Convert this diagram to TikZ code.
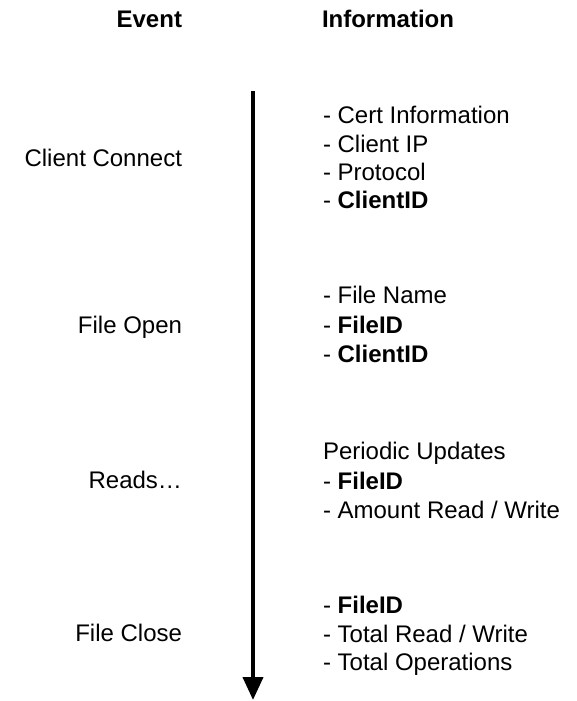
\documentclass[tikz,border=0pt]{standalone}
\usepackage{fontspec}
\setmainfont{Liberation Sans}
\usetikzlibrary{arrows.meta}

\tikzset{
  txt/.style={inner sep=0pt, outer sep=0pt, font=\fontsize{24}{29}\selectfont},
  head/.style={txt, font=\fontsize{24}{29}\selectfont\bfseries},
  evt/.style={txt, anchor=base east},
  info/.style={txt, anchor=base west},
  timeline/.style={line width=4pt, -{Triangle[width=20pt,length=23pt]}}
}

\begin{document}
\begin{tikzpicture}[x=1pt, y=-1pt]
  \useasboundingbox (0,0) rectangle (577,701);

  % column headers
  \node[head, anchor=base east] (hEvent) at (182,28) {Event};
  \node[head, anchor=base west] (hInfo) at (322,28) {Information};

  % time axis
  \coordinate (tStart) at (253,91);
  \coordinate (tEnd) at (253,700);
  \draw[timeline] (tStart) -- (tEnd);

  % events
  \node[evt] (eConnect) at (182,166) {Client Connect};
  \node[evt] (eOpen) at (182,333) {File Open};
  \node[evt] (eReads) at (182,488) {Reads…};
  \node[evt] (eClose) at (182,641) {File Close};

  % client connect information
  \node[info] (c1) at (323,123) {- Cert Information};
  \node[info] (c2) at (323,152) {- Client IP};
  \node[info] (c3) at (323,180) {- Protocol};
  \node[info] (c4) at (323,208) {- \textbf{ClientID}};

  % file open information
  \node[info] (o1) at (323,303) {- File Name};
  \node[info] (o2) at (323,333) {- \textbf{FileID}};
  \node[info] (o3) at (323,362) {- \textbf{ClientID}};

  % read updates
  \node[info] (r1) at (323,459) {Periodic Updates};
  \node[info] (r2) at (323,489) {- \textbf{FileID}};
  \node[info] (r3) at (323,518) {- Amount Read / Write};

  % file close information
  \node[info] (f1) at (323,613) {- \textbf{FileID}};
  \node[info] (f2) at (323,642) {- Total Read / Write};
  \node[info] (f3) at (323,670) {- Total Operations};
\end{tikzpicture}
\end{document}
